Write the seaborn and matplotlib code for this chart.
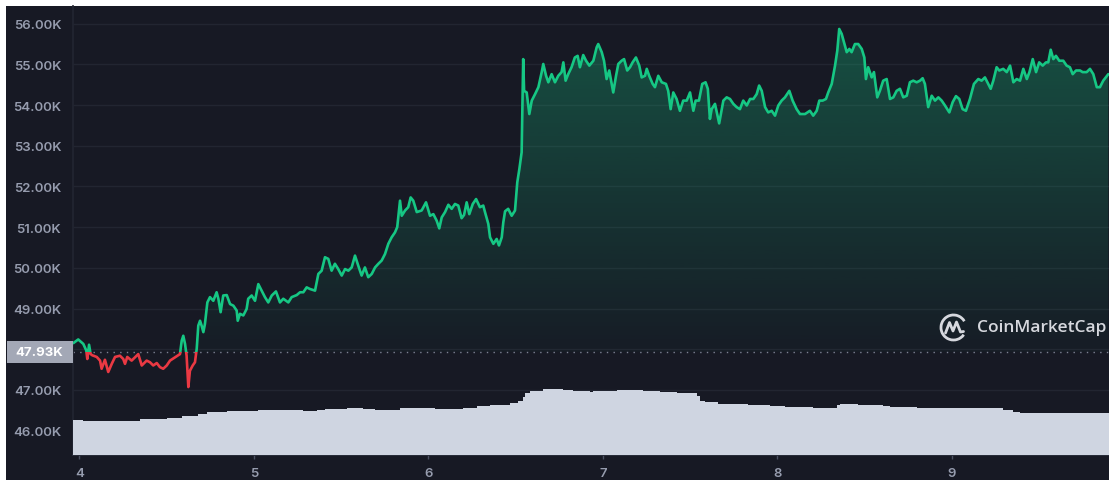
import numpy as np
import pandas as pd
import seaborn as sns
import matplotlib.pyplot as plt
from matplotlib.patches import Rectangle, Arc
from matplotlib.transforms import blended_transform_factory

# --- data (price in K USD, time in day-of-month) ---
days = [
    3.966, 3.994, 4.023, 4.040, 4.046, 4.056, 4.065, 4.075, 4.100, 4.119,
    4.128, 4.147, 4.166, 4.186, 4.205, 4.233, 4.252, 4.262, 4.275, 4.300,
    4.329, 4.338, 4.358, 4.386, 4.405, 4.424, 4.444, 4.462, 4.481, 4.501,
    4.520, 4.548, 4.577, 4.587, 4.596, 4.606, 4.615, 4.625, 4.634, 4.650,
    4.663, 4.673, 4.682, 4.692, 4.701, 4.711, 4.720, 4.734, 4.749, 4.768,
    4.787, 4.797, 4.810, 4.825, 4.845, 4.864, 4.883, 4.902, 4.908, 4.921,
    4.940, 4.959, 4.968, 4.988, 5.007, 5.026, 5.045, 5.064, 5.083, 5.103,
    5.127, 5.150, 5.169, 5.198, 5.217, 5.246, 5.265, 5.284, 5.303, 5.322,
    5.351, 5.370, 5.389, 5.408, 5.427, 5.446, 5.465, 5.484, 5.504, 5.523,
    5.542, 5.561, 5.580, 5.599, 5.618, 5.637, 5.656, 5.676, 5.695, 5.714,
    5.733, 5.752, 5.771, 5.790, 5.809, 5.822, 5.838, 5.848, 5.867, 5.885,
    5.899, 5.914, 5.934, 5.962, 5.987, 6.010, 6.029, 6.048, 6.063, 6.077,
    6.096, 6.115, 6.134, 6.153, 6.172, 6.191, 6.205, 6.220, 6.235, 6.255,
    6.274, 6.296, 6.315, 6.325, 6.344, 6.354, 6.373, 6.392, 6.405, 6.421,
    6.430, 6.440, 6.458, 6.478, 6.497, 6.510, 6.522, 6.535, 6.544, 6.549,
    6.564, 6.579, 6.593, 6.612, 6.631, 6.650, 6.659, 6.675, 6.688, 6.707,
    6.726, 6.745, 6.764, 6.774, 6.787, 6.802, 6.821, 6.840, 6.856, 6.869,
    6.888, 6.904, 6.923, 6.946, 6.965, 6.974, 6.994, 7.007, 7.022, 7.037,
    7.060, 7.076, 7.089, 7.108, 7.122, 7.140, 7.156, 7.171, 7.190, 7.209,
    7.223, 7.242, 7.252, 7.266, 7.286, 7.299, 7.318, 7.338, 7.362, 7.375,
    7.389, 7.404, 7.423, 7.442, 7.461, 7.481, 7.500, 7.519, 7.532, 7.551,
    7.570, 7.589, 7.602, 7.614, 7.624, 7.643, 7.667, 7.691, 7.710, 7.729,
    7.748, 7.767, 7.786, 7.805, 7.825, 7.844, 7.863, 7.882, 7.896, 7.911,
    7.930, 7.948, 7.968, 7.987, 8.006, 8.025, 8.044, 8.069, 8.088, 8.111,
    8.130, 8.159, 8.187, 8.206, 8.226, 8.241, 8.260, 8.279, 8.292, 8.312,
    8.331, 8.344, 8.355, 8.369, 8.388, 8.398, 8.413, 8.426, 8.445, 8.464,
    8.484, 8.499, 8.508, 8.521, 8.541, 8.554, 8.573, 8.588, 8.607, 8.627,
    8.646, 8.665, 8.684, 8.703, 8.722, 8.742, 8.760, 8.779, 8.799, 8.818,
    8.833, 8.846, 8.865, 8.885, 8.904, 8.923, 8.942, 8.961, 8.986, 9.005,
    9.024, 9.043, 9.062, 9.081, 9.104, 9.127, 9.152, 9.171, 9.190, 9.209,
    9.223, 9.238, 9.257, 9.272, 9.295, 9.315, 9.334, 9.353, 9.372, 9.391,
    9.410, 9.430, 9.445, 9.464, 9.483, 9.501, 9.521, 9.540, 9.553, 9.567,
    9.582, 9.597, 9.616, 9.639, 9.658, 9.677, 9.693, 9.712, 9.735, 9.750,
    9.773, 9.792, 9.811, 9.831, 9.849, 9.868, 9.897,
]
price_k = [
    48.15, 48.24, 48.13, 47.97, 47.76, 48.11, 47.88, 47.85, 47.81, 47.72,
    47.52, 47.74, 47.44, 47.64, 47.81, 47.84, 47.76, 47.64, 47.81, 47.72,
    47.84, 47.88, 47.60, 47.72, 47.68, 47.60, 47.66, 47.56, 47.52, 47.60,
    47.72, 47.80, 47.88, 48.21, 48.33, 48.13, 47.84, 47.07, 47.47, 47.60,
    47.68, 48.01, 48.58, 48.70, 48.58, 48.42, 48.62, 49.15, 49.28, 49.19,
    49.40, 49.24, 48.91, 49.32, 49.33, 49.11, 49.07, 48.95, 48.70, 48.87,
    48.83, 48.99, 49.24, 49.32, 49.19, 49.60, 49.44, 49.28, 49.15, 49.32,
    49.42, 49.15, 49.24, 49.15, 49.28, 49.33, 49.40, 49.40, 49.52, 49.48,
    49.44, 49.85, 49.93, 50.26, 50.22, 49.93, 50.10, 49.97, 49.81, 49.97,
    49.93, 50.01, 50.30, 50.05, 49.81, 50.01, 49.77, 49.85, 50.01, 50.10,
    50.18, 50.34, 50.59, 50.75, 50.87, 51.00, 51.65, 51.28, 51.41, 51.49,
    51.73, 51.65, 51.37, 51.41, 51.61, 51.28, 51.32, 51.16, 50.97, 51.24,
    51.37, 51.55, 51.45, 51.57, 51.53, 51.22, 51.30, 51.61, 51.32, 51.57,
    51.69, 51.49, 51.53, 51.37, 51.08, 50.75, 50.59, 50.71, 50.55, 50.75,
    51.12, 51.39, 51.45, 51.28, 51.41, 52.10, 52.43, 52.84, 55.13, 54.35,
    54.31, 53.78, 54.11, 54.27, 54.44, 54.81, 55.01, 54.72, 54.56, 54.76,
    54.56, 54.72, 54.81, 55.05, 54.60, 54.76, 54.93, 55.17, 55.21, 54.93,
    55.23, 55.09, 54.97, 55.09, 55.42, 55.50, 55.30, 55.09, 54.64, 54.85,
    54.31, 54.72, 55.01, 55.09, 55.13, 54.85, 54.93, 55.05, 55.17, 54.97,
    54.68, 54.72, 54.89, 54.72, 54.52, 54.44, 54.72, 54.56, 54.52, 54.35,
    53.90, 54.31, 54.15, 53.86, 54.11, 54.11, 54.31, 53.86, 54.11, 54.11,
    54.52, 54.56, 54.40, 53.66, 53.90, 54.03, 53.55, 54.11, 54.19, 54.15,
    54.03, 53.95, 53.90, 54.11, 53.99, 54.15, 54.15, 54.27, 54.48, 54.35,
    53.95, 53.82, 53.86, 53.74, 53.99, 54.11, 54.19, 54.35, 54.11, 53.90,
    53.78, 53.78, 53.86, 53.74, 53.86, 54.11, 54.11, 54.15, 54.31, 54.52,
    54.97, 55.34, 55.87, 55.75, 55.46, 55.30, 55.38, 55.30, 55.50, 55.50,
    55.38, 55.17, 54.64, 54.93, 54.68, 54.81, 54.19, 54.35, 54.60, 54.64,
    54.15, 54.19, 54.35, 54.40, 54.19, 54.23, 54.56, 54.60, 54.56, 54.60,
    54.66, 54.52, 53.95, 54.23, 54.11, 54.19, 54.11, 53.99, 53.82, 54.07,
    54.22, 54.15, 53.90, 53.86, 54.15, 54.52, 54.64, 54.60, 54.68, 54.52,
    54.40, 54.60, 54.93, 54.85, 54.89, 54.81, 54.97, 54.56, 54.64, 54.60,
    54.89, 54.64, 54.81, 55.13, 54.81, 55.05, 54.97, 55.05, 55.05, 55.36,
    55.13, 55.21, 55.09, 55.09, 54.97, 54.93, 54.76, 54.85, 54.85, 54.81,
    54.81, 54.89, 54.76, 54.44, 54.44, 54.60, 54.76,
]
# 24h volume (bn USD), stepwise
vol_days = [
    3.966, 4.021, 4.348, 4.503, 4.589, 4.680, 4.733, 4.846, 5.024, 5.150,
    5.282, 5.362, 5.408, 5.534, 5.626, 5.694, 5.763, 5.838, 6.038, 6.199,
    6.279, 6.354, 6.468, 6.514, 6.543, 6.554, 6.583, 6.657, 6.772, 6.829,
    6.927, 6.944, 7.081, 7.230, 7.328, 7.425, 7.500, 7.540, 7.557, 7.586,
    7.660, 7.832, 7.958, 8.044, 8.205, 8.262, 8.342, 8.359, 8.462, 8.606,
    8.646, 8.800, 9.173, 9.293, 9.350, 9.390,
]
vol_bn = [
    24.7, 24.0, 25.2, 26.1, 27.1, 28.7, 29.9, 30.6, 31.5, 31.3,
    30.8, 31.7, 32.4, 32.9, 32.4, 31.3, 31.7, 32.9, 32.4, 33.1,
    34.1, 35.2, 36.6, 38.0, 40.6, 43.4, 44.8, 46.2, 45.7, 45.0,
    44.3, 44.8, 45.5, 45.0, 44.3, 43.4, 43.2, 41.1, 38.0, 36.9,
    35.9, 35.0, 34.1, 33.4, 32.7, 33.1, 35.0, 35.9, 35.2, 34.1,
    33.4, 32.9, 33.1, 31.7, 29.9, 29.4,
]
ref_price = 47.93
y_ticks = [46, 47, 48, 49, 50, 51, 52, 53, 54, 55, 56]
x_ticks = [4, 5, 6, 7, 8, 9]

BG = '#171924'
GREEN = '#16c784'
RED = '#ea3943'
GRID = '#222531'
TXT = '#969cae'
VOL = '#cfd5e1'

W, H = 1109, 481
X0, X1 = 3.964, 9.901
Y0, Y1 = 45.40, 56.435

sns.set_theme(style='dark', rc={'axes.facecolor': BG, 'figure.facecolor': 'white'})
plt.rcParams['font.family'] = ['Inter', 'DejaVu Sans']

fig = plt.figure(figsize=(W / 100, H / 100), dpi=100)
fig.add_artist(Rectangle((6 / W, 0), 1 - 6 / W, 1 - 7 / H, transform=fig.transFigure,
                         fc=BG, ec='none', zorder=-10))
ax = fig.add_axes([73 / W, 25 / H, 1036 / W, 449 / H])
ax.set_facecolor(BG)

df = pd.DataFrame({'day': days, 'price': price_k})

# gradient fill between price and reference line
poly = ax.fill_between(df['day'], np.maximum(df['price'], ref_price), ref_price,
                       color='none', lw=0)
alpha = np.linspace(0.34, 0.02, 256)[:, None]
rgba = np.zeros((256, 1, 4))
rgba[..., :3] = plt.matplotlib.colors.to_rgb(GREEN)
rgba[..., 3] = alpha
im = ax.imshow(rgba, extent=[X0, X1, ref_price, Y1], origin='upper', aspect='auto', zorder=1)
im.set_clip_path(poly.get_paths()[0], transform=ax.transData)

# price line: green above reference, red below
sns.lineplot(data=df, x='day', y='price', ax=ax, color=GREEN, lw=1.9,
             estimator=None, sort=False, zorder=3)
line_up = ax.lines[-1]
sns.lineplot(data=df, x='day', y='price', ax=ax, color=RED, lw=1.9,
             estimator=None, sort=False, zorder=3)
line_dn = ax.lines[-1]
line_up.set_clip_path(Rectangle((X0 - 1, ref_price), 10, 20, transform=ax.transData))
line_dn.set_clip_path(Rectangle((X0 - 1, ref_price - 20), 10, 20, transform=ax.transData))

ax.axhline(ref_price, color='#7d8294', lw=1.0, ls=(0, (1, 3.8)), zorder=2)

ax.set_xlim(X0, X1)
ax.set_ylim(Y0, Y1)
ax.set_yticks(y_ticks)
ax.set_yticklabels([f'{t:.2f}K' for t in y_ticks])
ax.set_xticks(x_ticks)
ax.set_xticklabels([str(t) for t in x_ticks])
ax.set_xlabel('')
ax.set_ylabel('')
ax.grid(axis='y', color=GRID, lw=1)
ax.grid(axis='x', visible=False)
ax.tick_params(axis='y', length=0, pad=8.5, labelsize=9.5, labelcolor=TXT)
ax.tick_params(axis='x', bottom=True, length=3, width=1, color='#4a4f60', pad=5.5,
               labelsize=9.5, labelcolor=TXT)
for lab in ax.get_yticklabels() + ax.get_xticklabels():
    lab.set_fontweight('semibold')
for side in ['top', 'right']:
    ax.spines[side].set_visible(False)
ax.spines['left'].set_color(GRID)
ax.spines['bottom'].set_color('#2b2f3d')

# current price tag
tr = blended_transform_factory(ax.transAxes, ax.transData)
ax.add_patch(Rectangle((-66 / 1036, ref_price - 0.27), 66 / 1036, 0.54, transform=tr,
                       fc='#a3a8b6', ec='none', clip_on=False, zorder=6))
ax.text(-34 / 1036, ref_price, f'{ref_price:.2f}K', transform=tr, ha='center', va='center',
        color='white', fontsize=9.5, fontweight='bold', zorder=7, clip_on=False)

# volume area
ax2 = ax.twinx()
ax2.set_position(ax.get_position())
ax2.fill_between(vol_days + [X1], vol_bn + [vol_bn[-1]], 0, step='post', color=VOL, lw=0)
ax2.set_ylim(0, 314.3)
ax2.set_xlim(X0, X1)
ax2.set_yticks([])
ax2.grid(False)
for s in ax2.spines.values():
    s.set_visible(False)

# watermark
lax = fig.add_axes([939 / W, 1 - 343 / H, 29 / W, 29 / H])
lax.set_xlim(0, 29)
lax.set_ylim(29, 0)
lax.axis('off')
lax.add_patch(Arc((14.5, 14.5), 25, 25, theta1=35, theta2=330, color='#d6d8de', lw=2.0))
lax.plot([6.5, 10.5, 14.0, 17.5, 21.5, 24.5], [20, 9.5, 18, 9, 19, 18.5],
         color='#d6d8de', lw=2.0, solid_joinstyle='round', solid_capstyle='round')
fig.text(977 / W, 1 - 328 / H, 'CoinMarketCap', ha='left', va='center', fontsize=12.5,
         fontweight='semibold', color='#d6d8de', family=['Open Sans', 'DejaVu Sans'])

fig.savefig('out.png', dpi=100, facecolor='white')
